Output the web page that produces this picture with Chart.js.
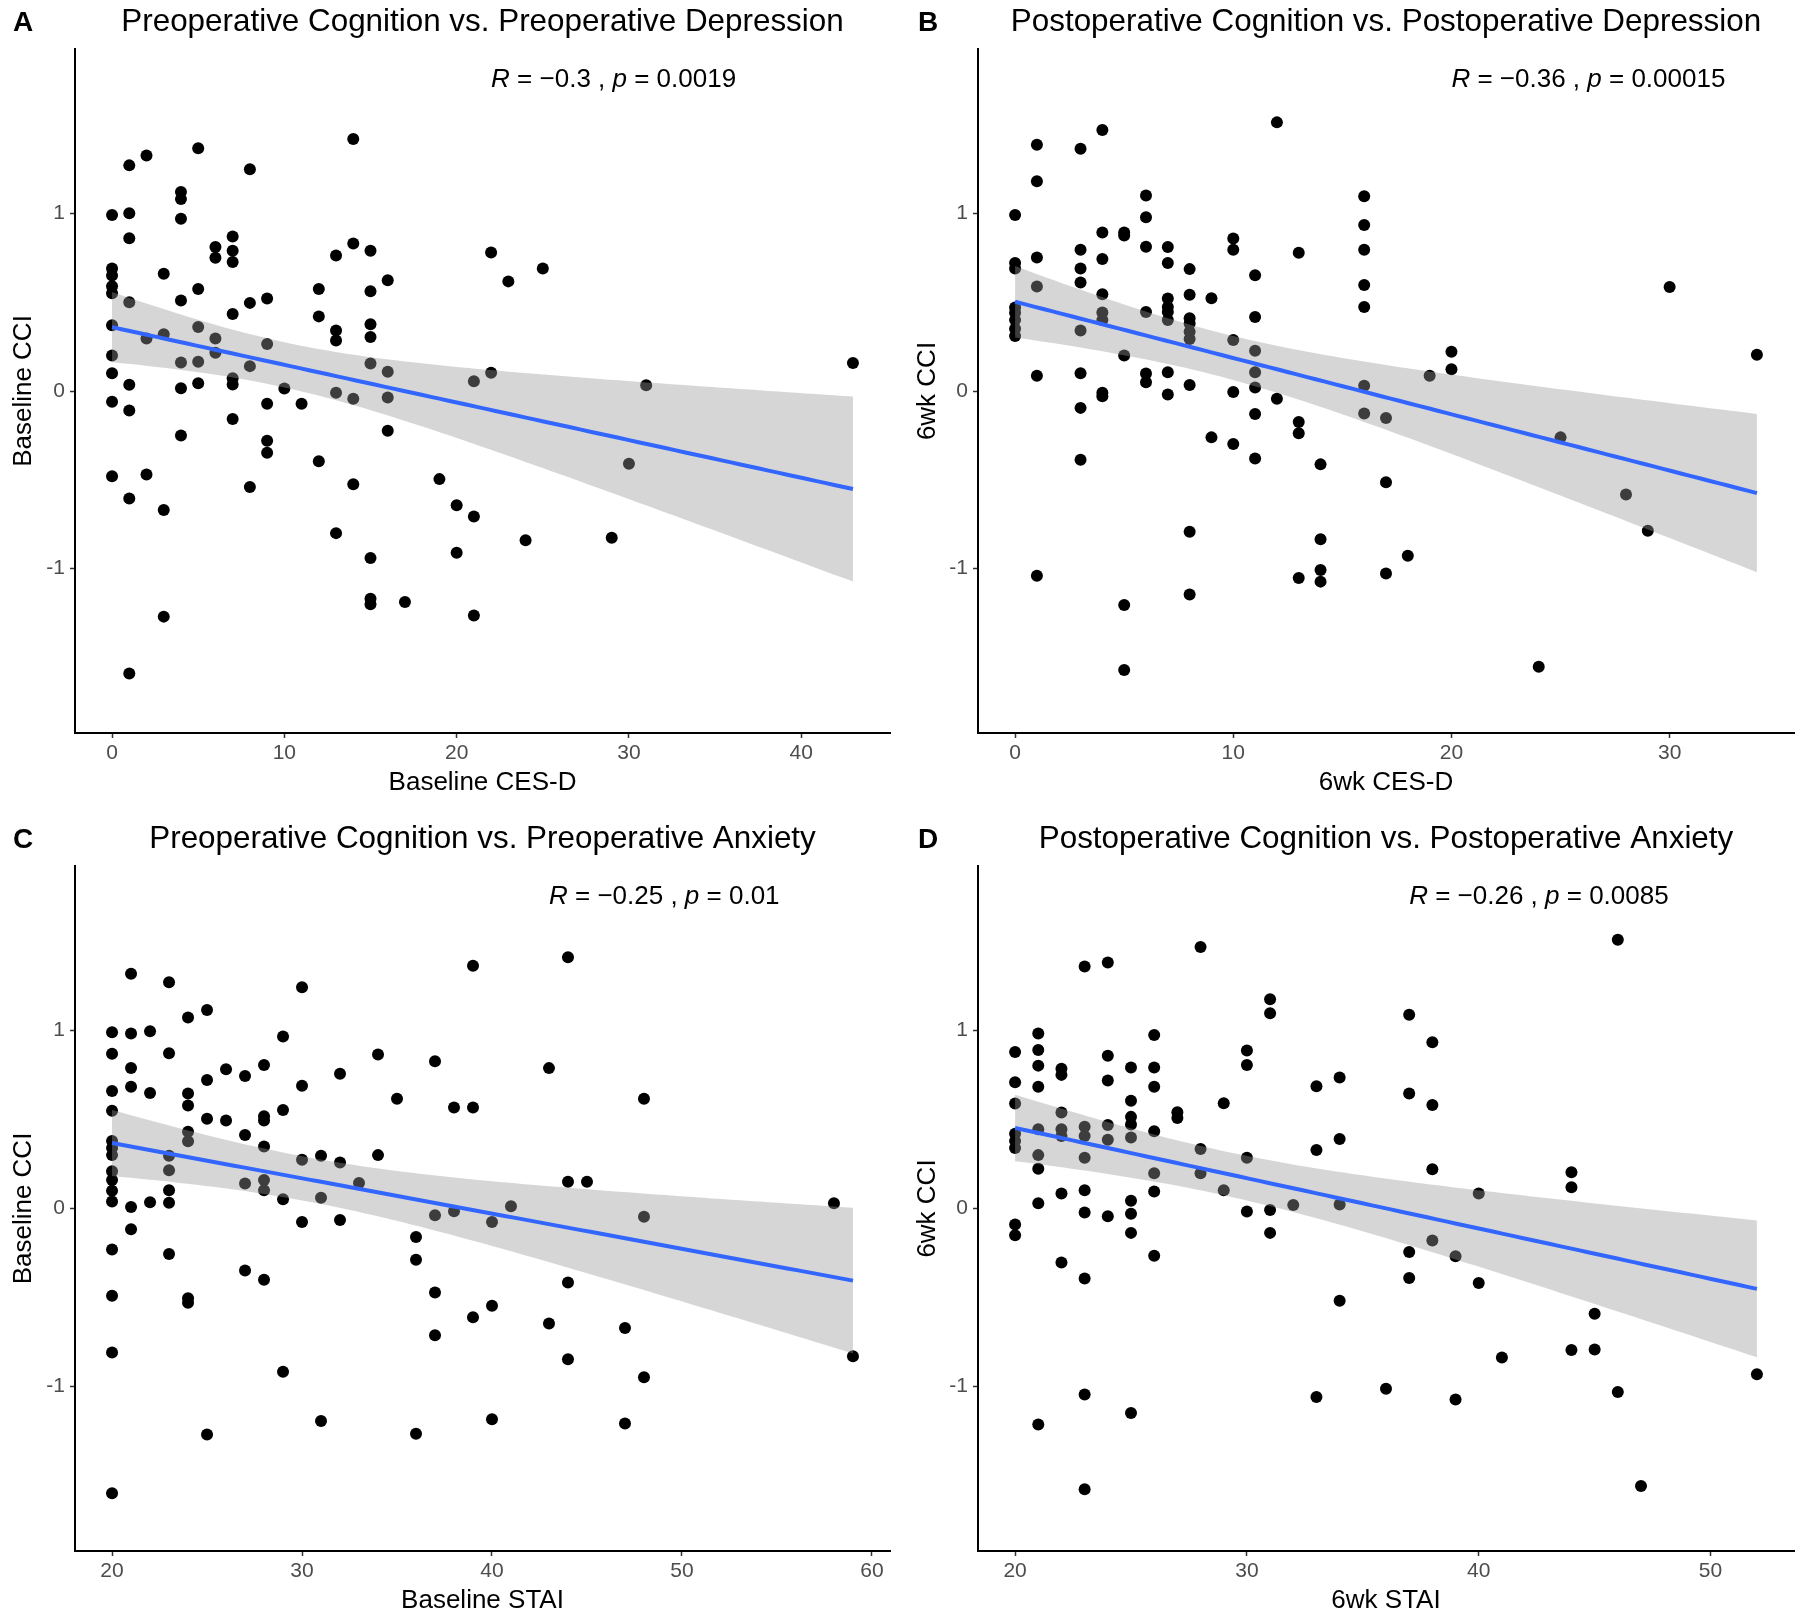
<!DOCTYPE html>
<html>
<head>
<meta charset="utf-8">
<script src="https://cdn.jsdelivr.net/npm/chart.js@4.4.1/dist/chart.umd.min.js"></script>
<style>
  html, body { margin: 0; padding: 0; background: #ffffff; }
  #wrap { position: relative; width: 1800px; height: 1621px; overflow: hidden; background: #fff; }
  canvas { position: absolute; }
</style>
</head>
<body>
<div id="wrap">
  <canvas id="cA" width="900" height="810" style="left:0px;top:0px"></canvas>
  <canvas id="cB" width="900" height="810" style="left:900px;top:0px"></canvas>
  <canvas id="cC" width="900" height="811" style="left:0px;top:810px"></canvas>
  <canvas id="cD" width="900" height="811" style="left:900px;top:810px"></canvas>
</div>
<script>
// ---------------- DATA ----------------
// Panel A: Baseline CES-D vs Baseline CCI
const A_x = [0,0,0,0,0,0,0,0,0,0, 1,1,1,1,1,1,1,1, 2,2,2, 3,3,3,3, 4,4,4,4,4,4,4, 5,5,5,5,5, 6,6,6,6,
  7,7,7,7,7,7,7, 8,8,8,8, 9,9,9,9,9, 10, 11, 12,12,12, 13,13,13,13,13, 14,14,14,14,
  15,15,15,15,15,15,15,15, 16,16,16,16, 17, 19, 20,20, 21,21,21, 22,22, 23, 24, 25, 29, 30, 31, 43];
const A_y = [0.99,0.69,0.65,0.59,0.55,0.37,0.20,0.10,-0.06,-0.48,
  1.27,1.00,0.86,0.50,0.035,-0.11,-0.605,-1.59,
  1.325,0.295,-0.47,
  0.66,0.32,-0.67,-1.27,
  1.12,1.08,0.97,0.51,0.16,0.015,-0.25,
  1.366,0.574,0.36,0.164,0.043,
  0.81,0.75,0.295,0.215,
  0.87,0.79,0.726,0.433,0.072,0.037,-0.158,
  1.248,0.496,0.14,-0.54,
  0.52,0.264,-0.072,-0.28,-0.347,
  0.014,
  -0.072,
  0.574,0.42,-0.396,
  0.763,0.34,0.284,-0.01,-0.80,
  1.418,0.83,-0.043,-0.525,
  0.79,0.562,0.376,0.304,0.155,-0.94,-1.17,-1.20,
  0.623,0.109,-0.037,-0.224,
  -1.188,
  -0.496,
  -0.643,-0.91,
  0.055,-0.706,-1.263,
  0.78,0.103,
  0.617,
  -0.84,
  0.69,
  -0.826,
  -0.41,
  0.032,
  0.158];

// Panel B: 6wk CES-D vs 6wk CCI
const B_x = [0,0,0,0,0,0,0,0, 1,1,1,1,1,1, 3,3,3,3,3,3,3,3, 4,4,4,4,4,4,4,4, 5,5,5,5,5, 6,6,6,6,6,6,
  7,7,7,7,7,7,7,7, 8,8,8,8,8,8,8,8,8, 9,9, 10,10,10,10,10, 11,11,11,11,11,11,11, 12,12,
  13,13,13,13, 14,14,14,14, 16,16,16,16,16,16,16, 17,17,17, 18, 19, 20,20, 24, 25, 28, 29, 30, 34];
const B_y = [0.99,0.72,0.69,0.47,0.44,0.40,0.35,0.31,
  1.386,1.18,0.752,0.588,0.086,-1.04,
  1.363,0.795,0.689,0.611,0.341,0.10,-0.095,-0.387,
  1.469,0.892,0.743,0.545,0.442,0.40,-0.01,-0.03,
  0.892,0.875,0.20,-1.205,-1.57,
  1.10,0.978,0.812,0.445,0.098,0.049,
  0.81,0.72,0.52,0.473,0.445,0.40,0.106,-0.02,
  0.686,0.542,0.41,0.38,0.333,0.293,0.034,-0.792,-1.145,
  0.522,-0.261,
  0.858,0.795,0.287,-0.006,-0.298,
  0.651,0.416,0.227,0.106,0.02,-0.13,-0.38,
  1.512,-0.043,
  0.778,-0.175,-0.238,-1.053,
  -0.413,-0.835,-1.007,-1.073,
  1.096,0.935,0.795,0.597,0.473,0.029,-0.126,
  -0.152,-0.514,-1.027,
  -0.927,
  0.086,
  0.221,0.123,
  -1.552,
  -0.261,
  -0.582,
  -0.786,
  0.585,
  0.204];

// Panel C: Baseline STAI vs Baseline CCI
const C_x = [20,20,20,20,20,20,20,20,20,20,20,20,20,20,20, 21,21,21,21,21,21, 22,22,22,
  23,23,23,23,23,23,23, 24,24,24,24,24,24,24, 25,25,25,25, 26,26, 27,27,27,27,
  28,28,28,28,28,28,28, 29,29,29,29, 30,30,30,30, 31,31,31, 32,32,32, 33, 34,34, 35,
  36,36,36, 37,37,37,37, 38,38, 39,39,39, 40,40,40, 41, 43,43, 44,44,44,44, 45, 47,47,
  48,48,48, 58, 59];
const C_y = [0.99,0.87,0.66,0.55,0.38,0.34,0.30,0.21,0.16,0.10,0.04,-0.23,-0.49,-0.81,-1.60,
  1.319,0.984,0.79,0.684,0.009,-0.116,
  0.996,0.649,0.035,
  1.272,0.873,0.297,0.215,0.102,0.032,-0.256,
  1.074,0.646,0.579,0.431,0.378,-0.504,-0.53,
  1.115,0.722,0.504,-1.27,
  0.783,0.495,
  0.745,0.413,0.14,-0.349,
  0.806,0.518,0.495,0.349,0.16,0.102,-0.40,
  0.967,0.553,0.052,-0.917,
  1.243,0.69,0.274,-0.076,
  0.297,0.061,-1.194,
  0.757,0.259,-0.064,
  0.143,
  0.865,0.30,
  0.617,
  -0.16,-0.288,-1.266,
  0.827,-0.038,-0.472,-0.713,
  0.568,-0.015,
  1.365,0.568,-0.611,
  -0.076,-0.547,-1.185,
  0.012,
  0.789,-0.646,
  1.412,0.151,-0.416,-0.847,
  0.151,
  -0.672,-1.208,
  0.617,-0.047,-0.949,
  0.029,
  -0.83];

// Panel D: 6wk STAI vs 6wk CCI
const D_x = [20,20,20,20,20,20,20,20, 21,21,21,21,21,21,21,21,21, 22,22,22,22,22,22,22,
  23,23,23,23,23,23,23,23,23, 24,24,24,24,24,24, 25,25,25,25,25,25,25,25,25,
  26,26,26,26,26,26,26, 27,27, 28,28,28, 29,29, 30,30,30,30, 31,31,31,31, 32,
  33,33,33, 34,34,34,34, 36, 37,37,37,37, 38,38,38,38, 39,39, 40,40, 41,
  44,44,44, 45,45, 46,46, 47, 52];
const D_y = [0.88,0.71,0.59,0.42,0.38,0.34,-0.09,-0.15,
  0.984,0.891,0.803,0.684,0.445,0.30,0.224,0.029,-1.214,
  0.786,0.751,0.539,0.445,0.408,0.084,-0.303,
  1.36,0.46,0.408,0.285,0.102,-0.023,-0.393,-1.045,-1.578,
  1.383,0.859,0.719,0.469,0.387,-0.044,
  0.792,0.606,0.515,0.472,0.399,0.044,-0.029,-0.137,-1.15,
  0.975,0.792,0.684,0.434,0.198,0.096,-0.265,
  0.541,0.509,
  1.47,0.335,0.198,
  0.591,0.102,
  0.888,0.806,0.285,-0.017,
  1.176,1.098,-0.009,-0.137,
  0.02,
  0.687,0.329,-1.06,
  0.736,0.39,0.023,-0.518,
  -1.013,
  1.089,0.646,-0.245,-0.39,
  0.934,0.582,0.221,-0.18,
  -0.268,-1.074,
  0.084,-0.419,
  -0.838,
  0.204,0.119,-0.795,
  -0.591,-0.792,
  1.511,-1.031,
  -1.56,
  -0.932];

// Tick labels
const Y_TICKS = [-1, 0, 1];
const Y_LIMITS = [-1.75, 1.75];
const A_X_TICKS = [0, 10, 20, 30, 40];
const B_X_TICKS = [0, 10, 20, 30];
const C_X_TICKS = [20, 30, 40, 50, 60];
const D_X_TICKS = [20, 30, 40, 50];

// Texts
const LETTERS = ['A', 'B', 'C', 'D'];
const TITLES = [
  'Preoperative Cognition vs. Preoperative Depression',
  'Postoperative Cognition vs. Postoperative Depression',
  'Preoperative Cognition vs. Preoperative Anxiety',
  'Postoperative Cognition vs. Postoperative Anxiety'
];
const X_TITLES = ['Baseline CES-D', '6wk CES-D', 'Baseline STAI', '6wk STAI'];
const Y_TITLES = ['Baseline CCI', '6wk CCI', 'Baseline CCI', '6wk CCI'];
const R_VALUES = ['\u22120.3', '\u22120.36', '\u22120.25', '\u22120.26'];
const P_VALUES = ['0.0019', '0.00015', '0.01', '0.0085'];
const LABEL_X = [22, 20, 43, 37];
const LABEL_Y = 1.75;

// ---------------- LAYOUT / STYLE ----------------
const FONT = "'Liberation Sans', Arial, Helvetica, sans-serif";
const LAYOUT = [
  { id: 'cA', padTop: 49, padRight: 10, yW: 75, xH: 77, xTitlePad: 11.4, yTitlePad: 8.4, letterX: 13 },
  { id: 'cB', padTop: 49, padRight: 6,  yW: 78, xH: 77, xTitlePad: 11.4, yTitlePad: 11.9, letterX: 18 },
  { id: 'cC', padTop: 56, padRight: 10, yW: 75, xH: 70, xTitlePad: 4.4, yTitlePad: 8.4, letterX: 13 },
  { id: 'cD', padTop: 56, padRight: 6,  yW: 78, xH: 70, xTitlePad: 4.4, yTitlePad: 11.9, letterX: 18 }
];

// linear model fit with 95% confidence band (as geom_smooth(method = "lm"))
function lmFit(xs, ys, nOut) {
  const n = xs.length;
  let mx = 0, my = 0;
  for (let i = 0; i < n; i++) { mx += xs[i]; my += ys[i]; }
  mx /= n; my /= n;
  let sxx = 0, sxy = 0;
  for (let i = 0; i < n; i++) { sxx += (xs[i] - mx) ** 2; sxy += (xs[i] - mx) * (ys[i] - my); }
  const b = sxy / sxx, a = my - b * mx;
  let sse = 0;
  for (let i = 0; i < n; i++) sse += (ys[i] - a - b * xs[i]) ** 2;
  const s = Math.sqrt(sse / (n - 2));
  const df = n - 2, z = 1.959964;
  const t = z + (z ** 3 + z) / (4 * df) + (5 * z ** 5 + 16 * z ** 3 + 3 * z) / (96 * df * df);
  const x0 = Math.min(...xs), x1 = Math.max(...xs);
  const fit = [], lo = [], hi = [];
  for (let k = 0; k < nOut; k++) {
    const x = x0 + (x1 - x0) * k / (nOut - 1);
    const f = a + b * x;
    const se = s * Math.sqrt(1 / n + (x - mx) ** 2 / sxx);
    fit.push({ x, y: f });
    lo.push({ x, y: f - t * se });
    hi.push({ x, y: f + t * se });
  }
  return { fit, lo, hi };
}

const decor = {
  id: 'decor',
  afterDraw(chart, args, o) {
    const ctx = chart.ctx, ca = chart.chartArea;
    ctx.save();
    ctx.fillStyle = '#000';
    ctx.textBaseline = 'alphabetic';
    const base = ca.top - 18;
    ctx.textAlign = 'left';
    ctx.font = 'bold 28px ' + FONT;
    ctx.fillText(o.letter, o.letterX, base);
    ctx.textAlign = 'center';
    ctx.font = '31.4px ' + FONT;
    ctx.fillText(o.title, (ca.left + ca.right) / 2, base);
    // correlation label
    let x = chart.scales.x.getPixelForValue(o.labelX);
    const y = chart.scales.y.getPixelForValue(o.labelY);
    ctx.textAlign = 'left';
    ctx.textBaseline = 'middle';
    const parts = [['R', true], [' = ' + o.r + ' , ', false], ['p', true], [' = ' + o.p, false]];
    for (const [txt, it] of parts) {
      ctx.font = (it ? 'italic ' : '') + '26px ' + FONT;
      ctx.fillText(txt, x, y);
      x += ctx.measureText(txt).width;
    }
    ctx.restore();
  }
};

function buildPanel(i, xs, ys, xTicks) {
  const L = LAYOUT[i];
  const pts = xs.map((x, k) => ({ x, y: ys[k] }));
  const m = lmFit(xs, ys, 80);
  const xMinD = Math.min(...xs), xMaxD = Math.max(...xs);
  const xPad = 0.05 * (xMaxD - xMinD);
  const yPad = 0.05 * (Y_LIMITS[1] - Y_LIMITS[0]);

  new Chart(document.getElementById(L.id), {
    type: 'scatter',
    data: {
      datasets: [
        { type: 'scatter', data: pts, order: 3, backgroundColor: '#000000', borderWidth: 0, pointRadius: 6, pointHoverRadius: 6 },
        { type: 'line', data: m.lo, order: 2, borderColor: 'rgba(0,0,0,0)', borderWidth: 1, pointRadius: 0, fill: false, tension: 0 },
        { type: 'line', data: m.hi, order: 1, borderColor: 'rgba(0,0,0,0)', borderWidth: 1, pointRadius: 0, fill: 1, backgroundColor: 'rgba(153,153,153,0.4)', tension: 0 },
        { type: 'line', data: m.fit, order: 0, borderColor: '#3366FF', borderWidth: 4, pointRadius: 0, fill: false, tension: 0 }
      ]
    },
    options: {
      responsive: false,
      animation: false,
      events: [],
      devicePixelRatio: 1,
      layout: { padding: { top: L.padTop, right: L.padRight, left: 0, bottom: 0 } },
      plugins: {
        legend: { display: false },
        tooltip: { enabled: false },
        decor: { letter: LETTERS[i], letterX: L.letterX, title: TITLES[i], r: R_VALUES[i], p: P_VALUES[i], labelX: LABEL_X[i], labelY: LABEL_Y }
      },
      scales: {
        x: {
          type: 'linear',
          min: xMinD - xPad,
          max: xMaxD + xPad,
          afterBuildTicks: s => { s.ticks = xTicks.map(v => ({ value: v })); },
          afterFit: s => { s.height = L.xH; },
          grid: { drawOnChartArea: false, drawTicks: true, tickLength: 5, tickWidth: 1.5, tickColor: '#333333' },
          border: { display: true, color: '#000000', width: 2 },
          ticks: { font: { family: FONT, size: 21 }, color: '#4D4D4D', padding: 3, maxRotation: 0, autoSkip: false, callback: v => String(v) },
          title: { display: true, text: X_TITLES[i], font: { family: FONT, size: 26 }, color: '#000000', padding: { top: 0, bottom: L.xTitlePad } }
        },
        y: {
          type: 'linear',
          min: Y_LIMITS[0] - yPad,
          max: Y_LIMITS[1] + yPad,
          afterBuildTicks: s => { s.ticks = Y_TICKS.map(v => ({ value: v })); },
          afterFit: s => { s.width = L.yW; },
          grid: { drawOnChartArea: false, drawTicks: true, tickLength: 5, tickWidth: 1.5, tickColor: '#333333' },
          border: { display: true, color: '#000000', width: 2 },
          ticks: { font: { family: FONT, size: 21 }, color: '#4D4D4D', padding: 5, autoSkip: false, callback: v => String(v) },
          title: { display: true, text: Y_TITLES[i], font: { family: FONT, size: 26 }, color: '#000000', padding: { top: L.yTitlePad, bottom: 0 } }
        }
      }
    },
    plugins: [decor]
  });
}

buildPanel(0, A_x, A_y, A_X_TICKS);
buildPanel(1, B_x, B_y, B_X_TICKS);
buildPanel(2, C_x, C_y, C_X_TICKS);
buildPanel(3, D_x, D_y, D_X_TICKS);
</script>
</body>
</html>
